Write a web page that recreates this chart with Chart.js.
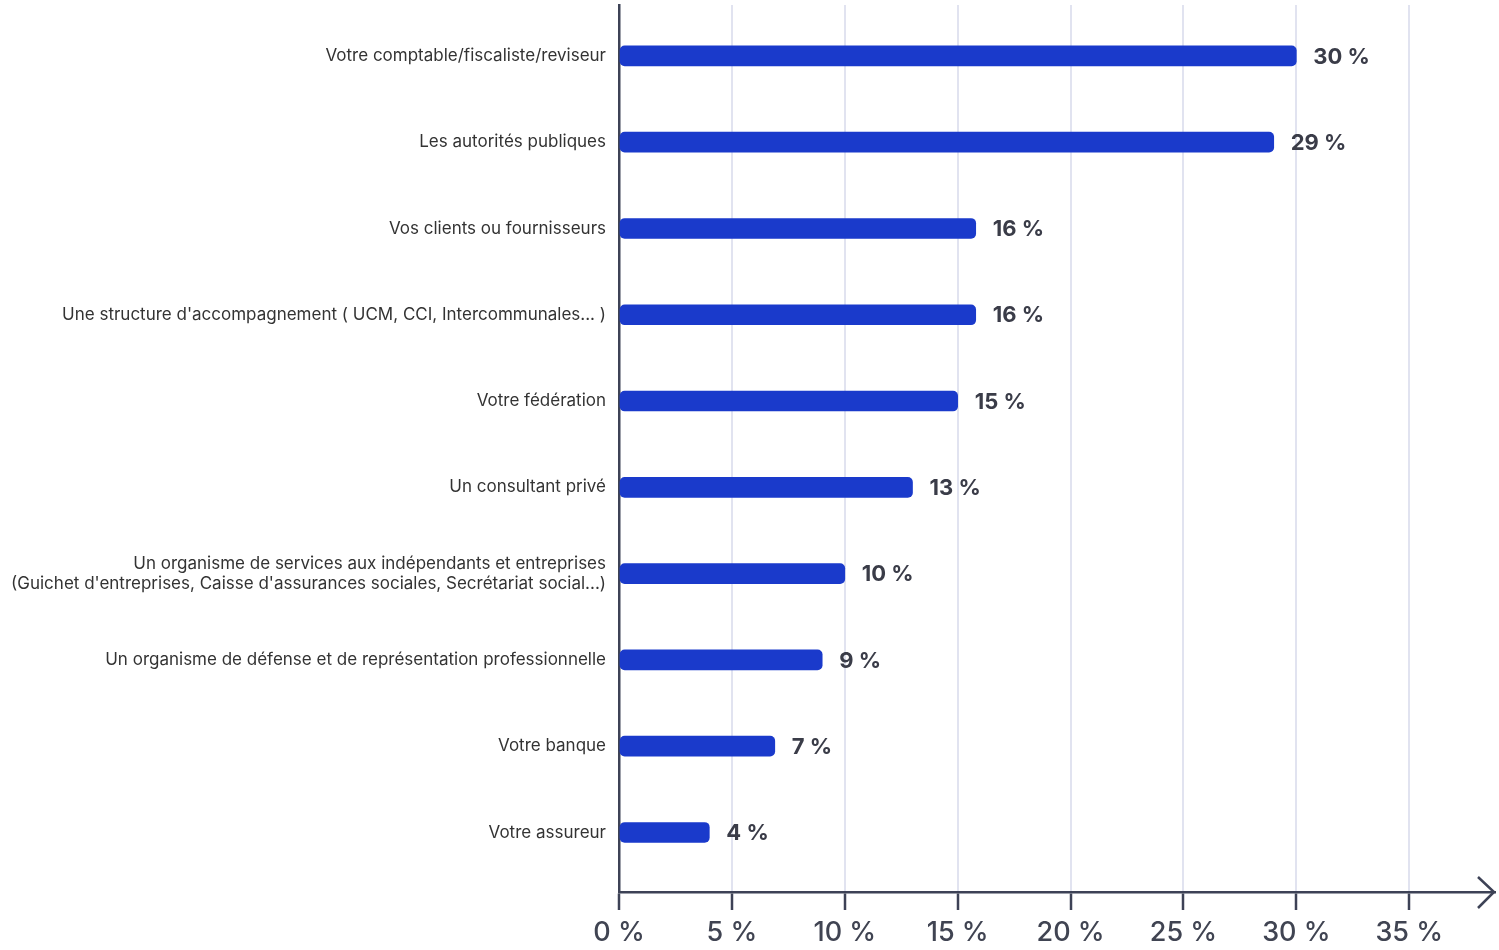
<!DOCTYPE html>
<html>
<head>
<meta charset="utf-8">
<script src="https://cdn.jsdelivr.net/npm/chart.js@4/dist/chart.umd.min.js"></script>
<style>
  html, body { margin: 0; padding: 0; background: #ffffff; }
  #wrap { width: 1499px; height: 950px; position: relative; }
</style>
</head>
<body>
<div id="wrap"><canvas id="c" width="1499" height="950"></canvas></div>
<script>
const categories = [
  "Votre comptable/fiscaliste/reviseur",
  "Les autorités publiques",
  "Vos clients ou fournisseurs",
  "Une structure d'accompagnement ( UCM, CCI, Intercommunales... )",
  "Votre fédération",
  "Un consultant privé",
  ["Un organisme de services aux indépendants et entreprises", "(Guichet d'entreprises, Caisse d'assurances sociales, Secrétariat social...)"],
  "Un organisme de défense et de représentation professionnelle",
  "Votre banque",
  "Votre assureur"
];
const values = [30, 29, 15.8, 15.8, 15, 13, 10, 9, 6.9, 4];
const xTickValues = [0, 5, 10, 15, 20, 25, 30, 35];

const dark = '#3d4256';
const textDark = '#3a3c48';

const valueLabels = {
  id: 'valueLabels',
  afterDatasetsDraw(chart) {
    const ctx = chart.ctx;
    const meta = chart.getDatasetMeta(0);
    ctx.save();
    ctx.font = 'bold 22px Inter';
    ctx.fillStyle = textDark;
    ctx.textAlign = 'left';
    ctx.textBaseline = 'middle';
    meta.data.forEach((bar, i) => {
      ctx.fillText(Math.round(values[i]) + ' %', bar.x + 17, bar.y + 1);
    });
    ctx.restore();
  }
};

const axisArrow = {
  id: 'axisArrow',
  afterDraw(chart) {
    const ctx = chart.ctx;
    const yb = chart.chartArea.bottom;
    const xr = chart.chartArea.right;
    ctx.save();
    ctx.strokeStyle = dark;
    ctx.lineWidth = 2.5;
    ctx.beginPath();
    ctx.moveTo(xr - 17, yb - 15);
    ctx.lineTo(xr - 1, yb);
    ctx.lineTo(xr - 17, yb + 16);
    ctx.stroke();
    ctx.restore();
  }
};

new Chart(document.getElementById('c'), {
  type: 'bar',
  data: {
    datasets: [{
      data: values.map((v, i) => ({ x: v, y: i })),
      backgroundColor: '#1a3acb',
      borderRadius: 5,
      borderSkipped: false,
      barThickness: 20
    }]
  },
  options: {
    indexAxis: 'y',
    responsive: false,
    animation: false,
    layout: { padding: { top: 5, right: 4, left: 0, bottom: 0 } },
    plugins: { legend: { display: false }, tooltip: { enabled: false } },
    scales: {
      x: {
        type: 'linear',
        min: 0,
        max: 38.8,
        afterBuildTicks(scale) {
          scale.ticks = xTickValues.map(v => ({ value: v }));
        },
        afterFit(scale) { scale.height = 58; scale.paddingRight = 0; },
        grid: {
          color: '#e1e3f0',
          lineWidth: 2,
          tickColor: dark,
          tickLength: 18,
          tickWidth: 2.5
        },
        border: { display: true, color: dark, width: 2.5 },
        ticks: {
          padding: 7,
          color: '#404452',
          font: { family: 'Inter', size: 27, weight: '500' },
          callback: v => v + ' %'
        }
      },
      y: {
        type: 'linear',
        reverse: true,
        offset: false,
        min: -0.59,
        max: 9.69,
        afterBuildTicks(scale) {
          scale.ticks = categories.map((c, i) => ({ value: i }));
        },
        afterFit(scale) { scale.width = 619; scale.paddingTop = 0; scale.paddingBottom = 0; },
        grid: { display: false, drawTicks: false },
        border: { display: true, color: dark, width: 2.5 },
        ticks: {
          padding: 13,
          color: '#333333',
          font: { family: 'Inter', size: 17 },
          callback: v => categories[v]
        }
      }
    }
  },
  plugins: [valueLabels, axisArrow]
});
</script>
</body>
</html>
